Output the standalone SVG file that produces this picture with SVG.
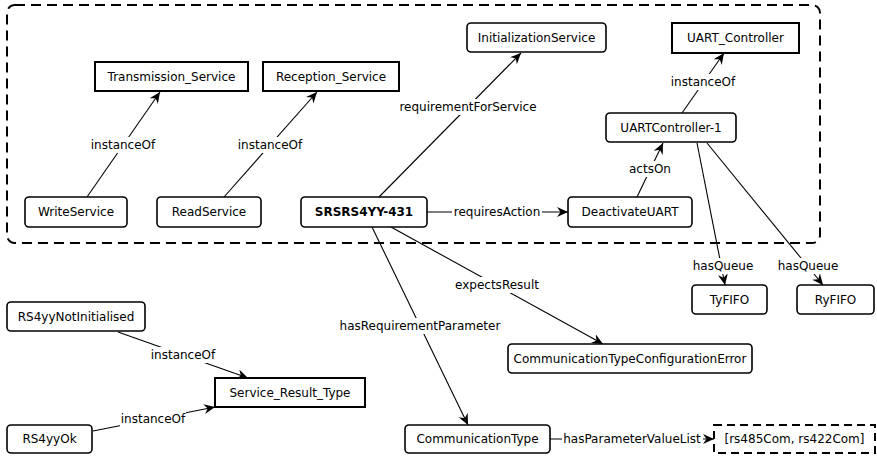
<svg xmlns="http://www.w3.org/2000/svg" width="877" height="458" viewBox="0 0 877 458">
<style>
text{font-family:"DejaVu Sans","Liberation Sans",sans-serif;font-size:12px;fill:#000;text-anchor:middle}
.bold{font-weight:bold}
.cls{fill:#fff;stroke:#000;stroke-width:2}
.ins{fill:#fff;stroke:#000;stroke-width:1.6}
.lst{fill:#fff;stroke:#000;stroke-width:2;stroke-dasharray:8,5}
.e{stroke:#000;stroke-width:1.1;fill:none}
.a{marker-end:url(#arr)}
.lb{fill:#fff}
</style>
<defs>
<marker id="arr" markerUnits="userSpaceOnUse" markerWidth="13" markerHeight="11" refX="11" refY="5" orient="auto">
<path d="M0,0 L11,5 L0,10 L3.5,5 Z" fill="#000"/>
</marker>
</defs>
<rect width="877" height="458" fill="#fff"/>
<rect x="7" y="5" width="813" height="238" rx="8" fill="none" stroke="#000" stroke-width="2" stroke-dasharray="10,6"/>
<g id="connectors">
<line class="e a" x1="87" y1="197" x2="160" y2="92"/>
<line class="e a" x1="224" y1="197" x2="317" y2="92"/>
<line class="e a" x1="379" y1="197" x2="521" y2="53"/>
<line class="e a" x1="427" y1="212" x2="568" y2="212"/>
<line class="e a" x1="637" y1="197" x2="663" y2="143"/>
<line class="e a" x1="682" y1="113" x2="724" y2="53"/>
<line class="e a" x1="697" y1="143" x2="725" y2="285"/>
<line class="e a" x1="707" y1="143" x2="823" y2="285"/>
<line class="e a" x1="391" y1="227" x2="603" y2="344"/>
<line class="e a" x1="372" y1="227" x2="468" y2="425"/>
<line class="e a" x1="550" y1="439" x2="714" y2="439"/>
<line class="e a" x1="118" y1="332" x2="248" y2="378"/>
<line class="e a" x1="93" y1="431" x2="215" y2="407"/>
<rect class="lb" x="90" y="137" width="66" height="16"/><text x="123" y="149">instanceOf</text>
<rect class="lb" x="237" y="137" width="66" height="16"/><text x="270" y="149">instanceOf</text>
<rect class="lb" x="397" y="99" width="142" height="16"/><text x="468" y="111">requirementForService</text>
<rect class="lb" x="452" y="204" width="90" height="16"/><text x="497" y="216">requiresAction</text>
<rect class="lb" x="628" y="161" width="44" height="16"/><text x="650" y="173">actsOn</text>
<rect class="lb" x="670" y="74" width="66" height="16"/><text x="703" y="86">instanceOf</text>
<rect class="lb" x="692" y="258" width="62" height="16"/><text x="723" y="270">hasQueue</text>
<rect class="lb" x="777" y="258" width="62" height="16"/><text x="808" y="270">hasQueue</text>
<rect class="lb" x="454" y="277" width="87" height="16"/><text x="497" y="289">expectsResult</text>
<rect class="lb" x="338" y="318" width="164" height="16"/><text x="420" y="330">hasRequirementParameter</text>
<rect class="lb" x="562" y="431" width="141" height="16"/><text x="632" y="443">hasParameterValueList</text>
<rect class="lb" x="150" y="347" width="66" height="16"/><text x="183" y="359">instanceOf</text>
<rect class="lb" x="120" y="411" width="66" height="16"/><text x="153" y="423">instanceOf</text>
</g>
<g id="n-transmission"><rect class="cls" x="95" y="62" width="153" height="29"/><text x="171.5" y="81">Transmission_Service</text></g>
<g id="n-reception"><rect class="cls" x="263" y="62" width="136" height="29"/><text x="331" y="81">Reception_Service</text></g>
<g id="n-init"><rect class="ins" x="467" y="23" width="139" height="29" rx="4"/><text x="536.5" y="42">InitializationService</text></g>
<g id="n-uartc"><rect class="cls" x="672" y="23" width="127" height="30"/><text x="735.5" y="42">UART_Controller</text></g>
<g id="n-write"><rect class="ins" x="25" y="197" width="102" height="30" rx="4"/><text x="76" y="216">WriteService</text></g>
<g id="n-read"><rect class="ins" x="157" y="197" width="104" height="30" rx="4"/><text x="209" y="216">ReadService</text></g>
<g id="n-srs"><rect class="ins" x="301" y="197" width="126" height="30" rx="4"/><text class="bold" x="364" y="216">SRSRS4YY-431</text></g>
<g id="n-deact"><rect class="ins" x="568" y="197" width="124" height="30" rx="4"/><text x="630" y="216">DeactivateUART</text></g>
<g id="n-uart1"><rect class="ins" x="606" y="113" width="130" height="29" rx="4"/><text x="671" y="132">UARTController-1</text></g>
<g id="n-ty"><rect class="ins" x="692" y="285" width="75" height="29" rx="4"/><text x="729.5" y="304">TyFIFO</text></g>
<g id="n-ry"><rect class="ins" x="797" y="285" width="77" height="29" rx="4"/><text x="835.5" y="304">RyFIFO</text></g>
<g id="n-ctce"><rect class="ins" x="508" y="344" width="244" height="29" rx="4"/><text x="630" y="363">CommunicationTypeConfigurationError</text></g>
<g id="n-ct"><rect class="ins" x="405" y="425" width="145" height="28" rx="4"/><text x="477.5" y="443">CommunicationType</text></g>
<g id="n-list"><rect class="lst" x="714" y="425" width="161" height="28"/><text x="794.5" y="443">[rs485Com, rs422Com]</text></g>
<g id="n-rsnot"><rect class="ins" x="7" y="302" width="138" height="29" rx="4"/><text x="76" y="321">RS4yyNotInitialised</text></g>
<g id="n-srt"><rect class="cls" x="215" y="378" width="150" height="29"/><text x="290" y="397">Service_Result_Type</text></g>
<g id="n-rsok"><rect class="ins" x="7" y="425" width="85" height="28" rx="4"/><text x="49.5" y="443">RS4yyOk</text></g>
</svg>
